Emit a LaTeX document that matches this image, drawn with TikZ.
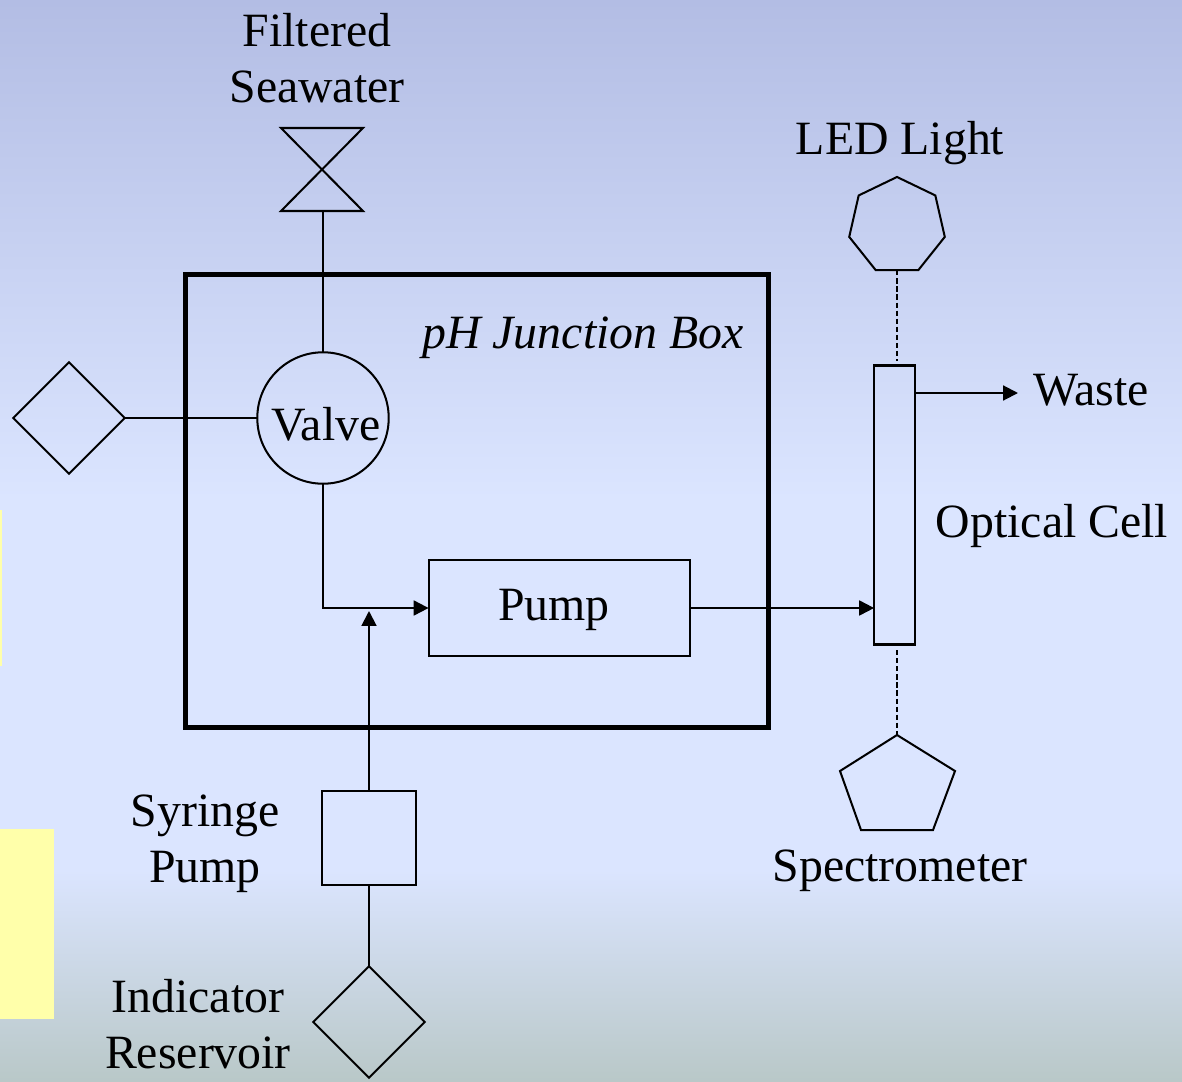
\documentclass[tikz,border=0pt]{standalone}
\usepackage{fontspec}
\setmainfont{Liberation Serif}
\usetikzlibrary{arrows.meta,shapes.geometric}
\definecolor{bgtop}{RGB}{179,189,228}
\definecolor{bgmid}{RGB}{219,229,255}
\definecolor{bgbot}{RGB}{185,200,200}
\definecolor{note}{RGB}{255,255,170}
\tikzset{
  thin line/.style={line width=1.15pt,black},
  flow/.style={thin line,-{Triangle[length=8.5pt,width=8.5pt]}},
  optic/.style={thin line,line width=1.3pt,dash pattern=on 3pt off 1.6pt},
  boxed/.style={draw,thin line,rectangle,inner sep=0pt,outer sep=0pt},
  gem/.style={draw,thin line,diamond,aspect=1,inner sep=0pt,outer sep=0pt,minimum size=63.5pt},
  lbl/.style={inner sep=0pt,outer sep=0pt,align=center,font=\fontsize{27.2}{32}\selectfont},
}
\begin{document}
\begin{tikzpicture}[x=0.02cm,y=-0.02cm]
\useasboundingbox (0,0) rectangle (1182,1081);
% background
\shade[top color=bgtop,bottom color=bgmid] (0,0) rectangle (1182,500);
\fill[bgmid] (0,499) rectangle (1182,871);
\shade[top color=bgmid,bottom color=bgbot] (0,870) rectangle (1182,1081);
% yellow panels
\fill[note] (0,510) rectangle (2,666);
\fill[note] (0,829) rectangle (54,1019);
% junction box
\node[draw,line width=2.8pt,rectangle,inner sep=0pt,outer sep=0pt,minimum width=332pt,minimum height=257.4pt] (box) at (477,501) {};
% main nodes
\node[boxed,circle,minimum size=74.8pt] (valve) at (323,418) {};
\node[lbl] (valvet) at (326,424) {Valve};
\node[boxed,minimum width=149pt,minimum height=55pt] (pump) at (559.5,608) {};
\node[lbl] (pumpt) at (554,610) {Pump};
\node[boxed,minimum width=53.3pt,minimum height=53.3pt] (syr) at (369,838) {};
\node[boxed,minimum width=23.2pt,minimum height=158.8pt] (cell) at (894.5,505) {};
\node[gem] (dleft) at (69,418) {};
\node[gem] (dbot) at (369,1022) {};
\node[draw,thin line,regular polygon,regular polygon sides=7,minimum size=55.8pt,inner sep=0pt,outer sep=0pt] (led) at (897,226) {};
% valve hourglass and spectrometer pentagon
\coordinate (hg) at (323,211);
\draw[thin line,line join=miter] (281,128) -- (363,128) -- (281,211) -- (363,211) -- cycle;
\coordinate (spec) at (897,735);
\draw[thin line] (spec) -- (955,771) -- (933,830) -- (861,830) -- (840,771) -- cycle;
% connectors
\draw[thin line] (hg) -- (valve.north -| hg);
\draw[thin line] (dleft.east) -- (valve.west);
\draw[flow] (valve.south) |- (pump.west);
\coordinate (junction) at (369,611);
\draw[flow] (syr.north) -- (junction);
\draw[thin line] (dbot.north) -- (syr.south);
\draw[flow] (pump.east) -- (cell.west |- pump.east);
\coordinate (wasteend) at (1018,393);
\draw[flow] (cell.east |- wasteend) -- (wasteend);
\coordinate (ledgap) at (897,361);
\coordinate (specgap) at (897,650);
\draw[optic] (led.south) -- (ledgap);
\draw[optic] (specgap) -- (spec);
% labels
\node[lbl] (t1) at (317,58) {Filtered\\Seawater};
\node[lbl] (t2) at (900,143) {LED Light};
\node[lbl,font=\fontsize{27.2}{32}\selectfont\itshape] (t3) at (583,338) {pH Junction Box};
\node[lbl] (t4) at (1091,390) {Waste};
\node[lbl] (t5) at (1052,526) {Optical Cell};
\node[lbl] (t6) at (205,844) {Syringe\\Pump};
\node[lbl] (t7) at (198,1024) {Indicator\\Reservoir};
\node[lbl] (t8) at (900,871) {Spectrometer};
\end{tikzpicture}
\end{document}
